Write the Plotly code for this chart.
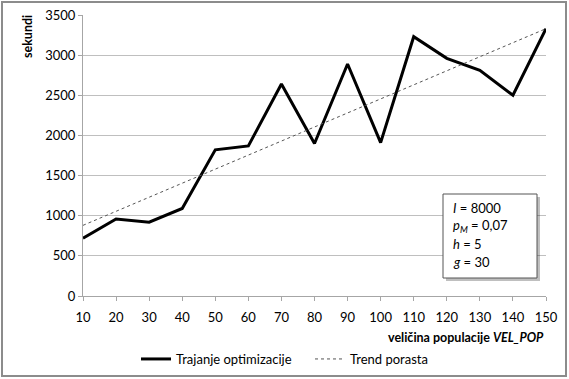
import plotly.graph_objects as go

velicina = [10, 20, 30, 40, 50, 60, 70, 80, 90, 100, 110, 120, 130, 140, 150]
trajanje = [720, 960, 920, 1090, 1820, 1870, 2640, 1900, 2890, 1910, 3230, 2960, 2810, 2500, 3330]
trend_x = [10, 150]
trend_y = [880, 3330]
y_ticks = [0, 500, 1000, 1500, 2000, 2500, 3000, 3500]

FONT = "Lato"
W, H = 569, 379
L, R, T, B = 83, 546, 15, 296

def px(x):
    return (x - L) / (R - L)

def py(y):
    return (B - y) / (B - T)

fig = go.Figure()
fig.add_trace(go.Scatter(
    x=velicina, y=trajanje, mode="lines", name="Trajanje optimizacije",
    line=dict(color="black", width=3)))
fig.add_trace(go.Scatter(
    x=trend_x, y=trend_y, mode="lines", name="Trend porasta",
    line=dict(color="#555555", width=1, dash="dot")))

shapes = [
    # chart border
    dict(type="rect", xref="paper", yref="paper", x0=px(2), x1=px(566), y0=py(376), y1=py(2),
         line=dict(color="#8c8c8c", width=2), layer="below"),
    # text box shadow
    dict(type="rect", xref="paper", yref="paper", x0=px(446), x1=px(540), y0=py(281), y1=py(197),
         line=dict(width=0), fillcolor="rgba(0,0,0,0.25)"),
    # text box
    dict(type="rect", xref="paper", yref="paper", x0=px(443), x1=px(537), y0=py(278), y1=py(194),
         line=dict(color="#555555", width=1), fillcolor="white"),
]

box_lines = [
    "<i>I</i> = 8000",
    "<i>p<sub>M</sub></i> = 0,07",
    "<i>h</i> = 5",
    "<i>g</i> = 30",
]
annotations = []
for i, t in enumerate(box_lines):
    annotations.append(dict(
        text=t, xref="paper", yref="paper", x=px(451), y=py(208 + i * 18),
        xanchor="left", yanchor="middle", showarrow=False,
        font=dict(family=FONT, size=13, color="black")))

annotations.append(dict(
    text="<b>sekundi</b>", xref="paper", yref="paper", x=px(28), y=py(37),
    xanchor="center", yanchor="middle", textangle=-90, showarrow=False,
    font=dict(family=FONT, size=12.5, color="black")))
annotations.append(dict(
    text="<b>veličina populacije <i>VEL_POP</i></b>", xref="paper", yref="paper",
    x=px(546), y=py(337), xanchor="right", yanchor="middle", showarrow=False,
    font=dict(family=FONT, size=12.5, color="black")))

fig.update_layout(
    width=W, height=H,
    margin=dict(l=L, r=W - R, t=T, b=H - B, autoexpand=False),
    paper_bgcolor="white", plot_bgcolor="white",
    font=dict(family=FONT, size=13, color="black"),
    showlegend=True,
    legend=dict(orientation="h", x=px(136), xanchor="left", y=py(359), yanchor="middle",
                font=dict(family=FONT, size=13), itemwidth=30, tracegroupgap=0,
                entrywidth=129, entrywidthmode="pixels",
                bgcolor="rgba(0,0,0,0)"),
    shapes=shapes,
    annotations=annotations,
    xaxis=dict(range=[10, 150], tickvals=velicina, ticktext=[str(v) for v in velicina],
               showgrid=False, zeroline=False, showline=True, linecolor="#a6a6a6", linewidth=1,
               ticks="outside", ticklen=4, tickcolor="#a6a6a6", fixedrange=True,
               ticklabelstandoff=5),
    yaxis=dict(range=[0, 3500], tickvals=y_ticks, showgrid=True, gridcolor="#bfbfbf", gridwidth=1,
               zeroline=False, showline=True, linecolor="#a6a6a6", linewidth=1,
               ticks="outside", ticklen=4, tickcolor="#a6a6a6", fixedrange=True),
)

fig.write_html(
    "out.html",
    config={"displayModeBar": False},
    post_script="document.body.style.margin='0';document.body.style.overflow='hidden';",
)
